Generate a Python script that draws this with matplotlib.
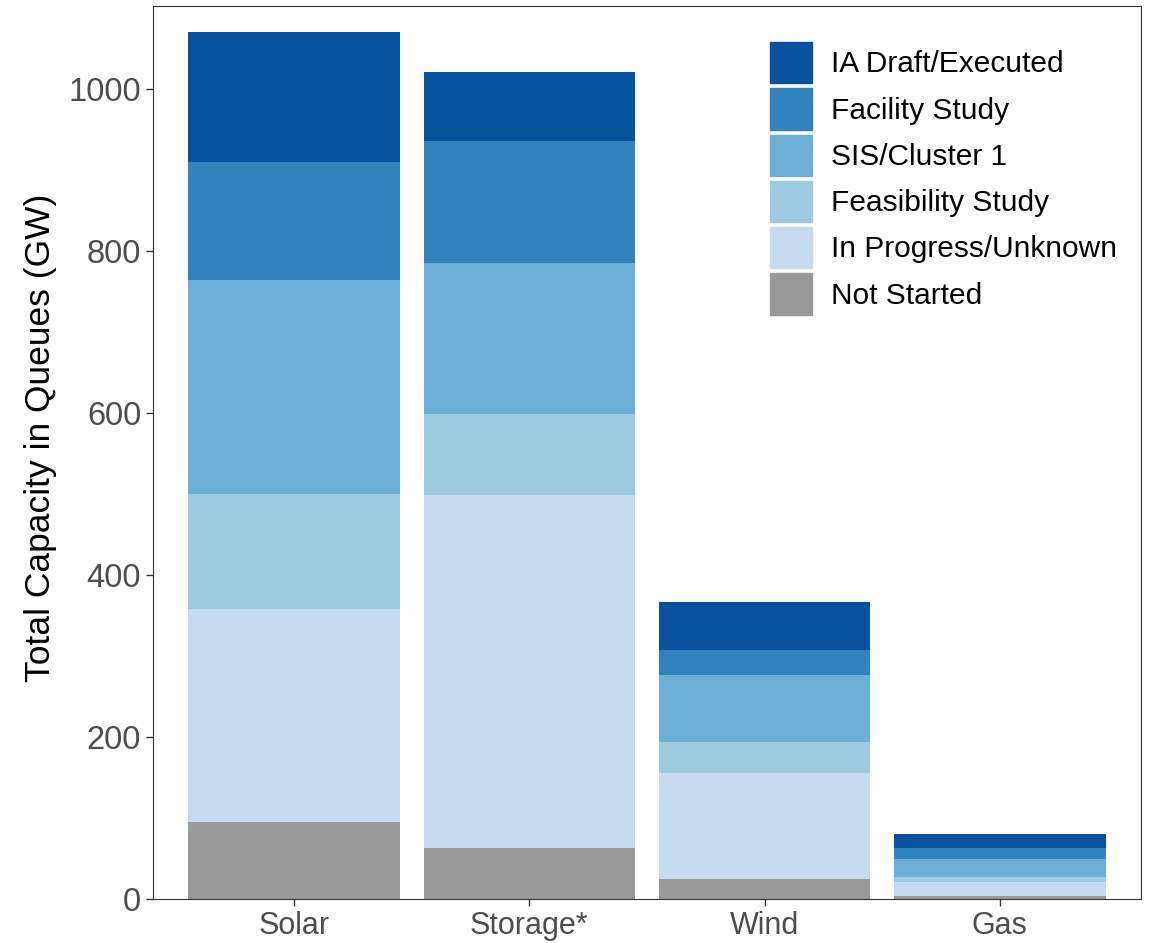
import matplotlib.pyplot as plt
import numpy as np

plt.rcParams['font.family'] = ['Liberation Sans', 'DejaVu Sans']

categories = ['Solar', 'Storage*', 'Wind', 'Gas']
stages = ['Not Started', 'In Progress/Unknown', 'Feasibility Study',
          'SIS/Cluster 1', 'Facility Study', 'IA Draft/Executed']
colors = ['#999999', '#c6dbef', '#9ecae1', '#6baed6', '#3182bd', '#08519c']

# GW per stage, bottom to top
not_started = [95, 63, 25, 3.5]
in_progress = [263, 435, 130, 17]
feasibility = [142, 101, 39, 6.5]
sis_cluster = [264, 186, 82.5, 22]
facility = [146, 150, 30.5, 14]
ia_draft = [160, 86, 59, 17]

values = [not_started, in_progress, feasibility, sis_cluster, facility, ia_draft]

fig = plt.figure(figsize=(11.53, 9.43), dpi=100)
ax = fig.add_axes([153/1153, 1 - 899/943, 988/1153, 893/943])

x = np.arange(len(categories)) + 1
bottom = np.zeros(len(categories))
for vals, lab, col in zip(values, stages, colors):
    ax.bar(x, vals, width=0.9, bottom=bottom, color=col, label=lab, linewidth=0)
    bottom += np.array(vals)

ax.set_xlim(0.4, 4.6)
ax.set_ylim(0, 1102)
ax.set_xticks(x)
ax.set_xticklabels(categories)
ax.set_yticks([0, 200, 400, 600, 800, 1000])
ax.tick_params(labelcolor='#4d4d4d', color='#333333', length=5, width=1)
ax.tick_params(axis='x', labelsize=22)
ax.tick_params(axis='y', labelsize=23.5)
ax.set_ylabel('Total Capacity in Queues (GW)', fontsize=25.5)
ax.yaxis.set_label_coords(-0.097, 0.517)
for s in ax.spines.values():
    s.set_color('#333333')
    s.set_linewidth(0.8)

handles = [plt.Rectangle((0, 0), 1, 1, color=c) for c in colors[::-1]]
fig.legend(handles, stages[::-1], loc='upper left',
           bbox_to_anchor=(770/1153, 1 - 42/943), frameon=False,
           fontsize=21.5, handlelength=1.41, handleheight=1.76,
           labelspacing=0.16, handletextpad=0.62, borderpad=0, borderaxespad=0)

fig.savefig('out.png', dpi=100)
